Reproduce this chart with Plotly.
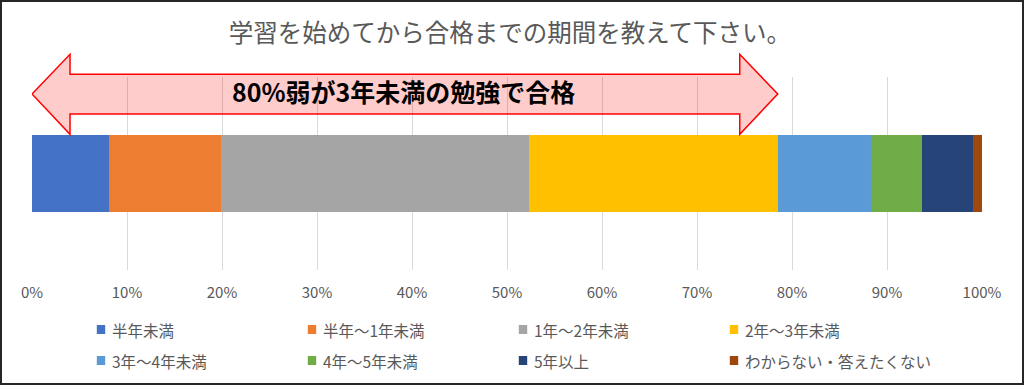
import plotly.graph_objects as go

# ---- data ----
categories = ["半年未満", "半年～1年未満", "1年～2年未満", "2年～3年未満",
              "3年～4年未満", "4年～5年未満", "5年以上", "わからない・答えたくない"]
values = [8.1, 11.8, 32.4, 26.2, 9.8, 5.4, 5.4, 0.9]
colors = ["#4472C4", "#ED7D31", "#A5A5A5", "#FFC000",
          "#5B9BD5", "#70AD47", "#264478", "#9E480E"]
tick_vals = list(range(0, 101, 10))
tick_text = [f"{v}%" for v in tick_vals]
title_text = "学習を始めてから合格までの期間を教えて下さい。"
arrow_text = "80%弱が3年未満の勉強で合格"

FONT = "Noto Sans CJK JP, Noto Sans, sans-serif"

W, H = 1024, 385
L, R, T, B = 32, 42, 77, 115
pw, ph = W - L - R, H - T - B
def px(x): return (x - L) / pw
def py(y): return (H - B - y) / ph

fig = go.Figure()
for name, v, c in zip(categories, values, colors):
    fig.add_trace(go.Bar(
        x=[v], y=[0], name=name, orientation="h",
        marker=dict(color=c, line=dict(width=0)), width=0.4, showlegend=False,
    ))

# arrow spanning 0% to the cumulative share under 3 years
tip = sum(values[:4])
head = 4.0
yt, ys_top, ys_bot, yh_top, yh_bot = py(94), py(74.3), py(114), py(54.3), py(134.3)
path = (f"M 0,{yt} L {head},{yh_top} L {head},{ys_top} L {tip-head},{ys_top} "
        f"L {tip-head},{yh_top} L {tip},{yt} L {tip-head},{yh_bot} L {tip-head},{ys_bot} "
        f"L {head},{ys_bot} L {head},{yh_bot} Z")
fig.add_shape(type="path", path=path, xref="x", yref="paper",
              fillcolor="rgba(255,0,0,0.2)", line=dict(color="#FF0000", width=1.5))

fig.add_annotation(x=px(403), y=py(91), xref="paper", yref="paper", text=f"<b>{arrow_text}</b>",
                   showarrow=False, font=dict(family=FONT, size=25, color="#000000"),
                   xanchor="center", yanchor="middle")

# custom legend (two rows of four)
for i, (name, c) in enumerate(zip(categories, colors)):
    row, col = divmod(i, 4)
    cx = 101 + 211 * col
    cy = 329.5 + 31 * row
    fig.add_shape(type="rect", xref="paper", yref="paper",
                  x0=px(cx - 4.2), x1=px(cx + 4.2), y0=py(cy + 4.5), y1=py(cy - 4.5),
                  fillcolor=c, line=dict(width=0))
    fig.add_annotation(x=px(cx + 8.5), y=py(cy), xref="paper", yref="paper", text=name,
                       showarrow=False, xanchor="left", yanchor="middle",
                       font=dict(family=FONT, size=15.5, color="#595959"))

# outer frame
fig.add_shape(type="rect", xref="paper", yref="paper",
              x0=px(1), x1=px(1023), y0=py(384), y1=py(1),
              line=dict(color="#262626", width=2), fillcolor="rgba(0,0,0,0)")

fig.update_layout(
    width=W, height=H,
    barmode="stack",
    margin=dict(l=L, r=R, t=T, b=B),
    plot_bgcolor="white", paper_bgcolor="white",
    font=dict(family=FONT, color="#595959"),
    title=dict(text=title_text, x=px(505), xanchor="center", y=1 - 33 / H, yref="container",
               yanchor="middle", font=dict(family=FONT, size=24.5, color="#595959")),
    xaxis=dict(range=[0, 100], tickvals=tick_vals, ticktext=tick_text,
               showgrid=True, gridcolor="#D9D9D9", gridwidth=1, zeroline=False,
               showline=False, ticks="", ticklabelstandoff=12,
               tickfont=dict(family=FONT, size=15, color="#595959")),
    yaxis=dict(range=[-0.5, 0.5], showticklabels=False, showgrid=False,
               zeroline=False, showline=False, fixedrange=True),
    showlegend=False,
)

fig.write_html("out.html", config={"displayModeBar": False},
               post_script="document.body.style.margin='0';document.body.style.overflow='hidden';")
